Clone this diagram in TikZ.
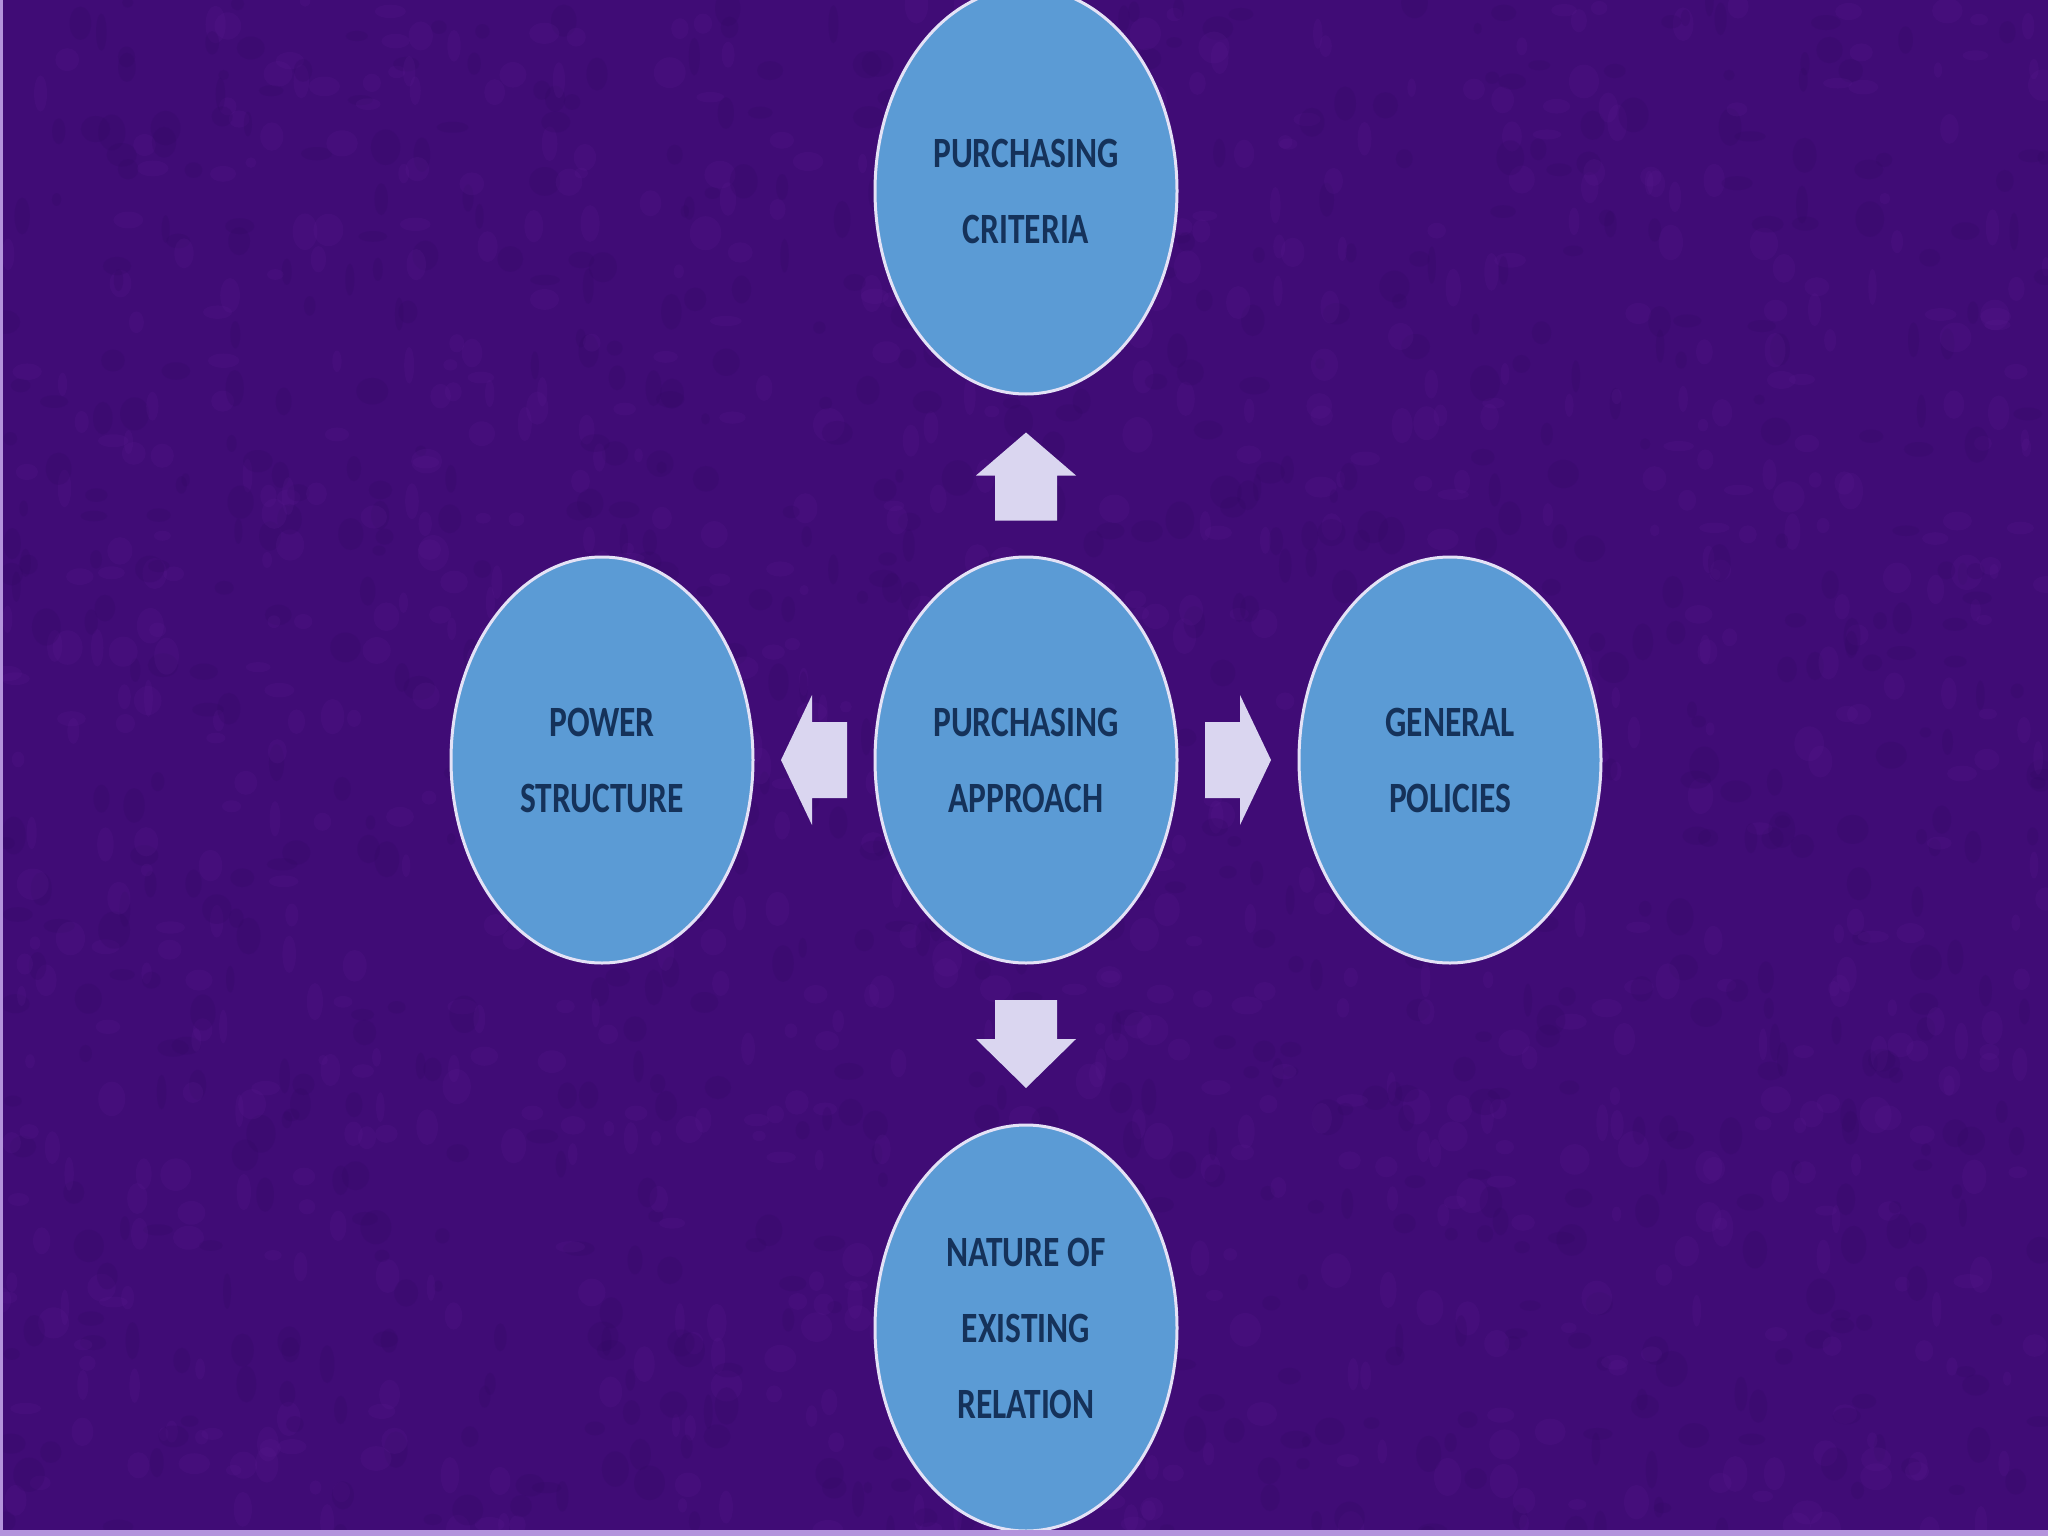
\documentclass[tikz,border=0pt]{standalone}
\usepackage{fontspec}
\setmainfont{Carlito}
\usetikzlibrary{calc,shapes.geometric}
\definecolor{bgpurple}{HTML}{400C76}
\definecolor{blotlight}{HTML}{5A1A90}
\definecolor{blotdark}{HTML}{2E0760}
\definecolor{edgelav}{HTML}{B494DC}
\definecolor{ellfill}{HTML}{5B9BD5}
\definecolor{ellline}{HTML}{E4E2F6}
\definecolor{arrfill}{HTML}{DAD6F0}
\definecolor{txtnavy}{HTML}{15325A}
\newcommand{\bline}[1]{\scalebox{0.93}[1.2]{#1}}
\tikzset{
  bubble/.style={ellipse, fill=ellfill, draw=ellline, line width=3pt,
    minimum width=302pt, minimum height=406pt, inner sep=0pt,
    text=txtnavy, align=center, font=\fontsize{36}{76}\selectfont\bfseries},
  blockarrow/.style={fill=arrfill, draw=none}
}
\begin{document}
\begin{tikzpicture}[x=1pt,y=-1pt]
\useasboundingbox (0,0) rectangle (2048,1536);
\fill[bgpurple] (0,0) rectangle (2048,1536);
\pgfmathsetseed{4242}
\foreach \k in {1,...,1800}{
  \pgfmathsetmacro{\px}{rnd*2048}
  \pgfmathsetmacro{\py}{rnd*1536}
  \pgfmathsetmacro{\rx}{4+rnd*12}
  \pgfmathsetmacro{\ry}{5+rnd*14}
  \pgfmathsetmacro{\cc}{rnd}
  \ifdim\cc pt>0.5pt
    \fill[blotlight, opacity=0.2] (\px,\py) ellipse [x radius=\rx, y radius=\ry];
  \else
    \fill[blotdark, opacity=0.2] (\px,\py) ellipse [x radius=\rx, y radius=\ry];
  \fi
}
\fill[edgelav] (0,0) rectangle (3,1536);

\node[bubble] (c) at (1026,760) {\bline{PURCHASING}\\\bline{APPROACH}};
\node[bubble] (t) at (1026,191) {\bline{PURCHASING}\\\bline{CRITERIA}};
\node[bubble] (b) at (1026,1328) {\bline{NATURE OF}\\\bline{EXISTING}\\\bline{RELATION}};
\node[bubble] (l) at (602,760) {\bline{POWER}\\\bline{STRUCTURE}};
\node[bubble] (r) at (1450,760) {\bline{GENERAL}\\\bline{POLICIES}};

\fill[edgelav] (0,1530) rectangle (2048,1536);

\coordinate (mu) at ($(c.north)!0.5!(t.south)$);
\coordinate (md) at ($(c.south)!0.5!(b.north)$);
\coordinate (ml) at ($(c.west)!0.5!(l.east)$);
\coordinate (mr) at ($(c.east)!0.5!(r.west)$);

\fill[blockarrow] (mu) ++(-31,45) -- ++(62,0) -- ++(0,-45) -- ++(19,0) -- ++(-50,-43) -- ++(-50,43) -- ++(19,0) -- cycle;
\fill[blockarrow] (md) ++(-31,-44) -- ++(62,0) -- ++(0,39) -- ++(19,0) -- ++(-50,49) -- ++(-50,-49) -- ++(19,0) -- cycle;
\fill[blockarrow] (ml) ++(33,-38) -- ++(0,76) -- ++(-35,0) -- ++(0,27) -- ++(-31,-65) -- ++(31,-65) -- ++(0,27) -- cycle;
\fill[blockarrow] (mr) ++(-33,-38) -- ++(0,76) -- ++(35,0) -- ++(0,27) -- ++(31,-65) -- ++(-31,-65) -- ++(0,27) -- cycle;
\end{tikzpicture}
\end{document}
